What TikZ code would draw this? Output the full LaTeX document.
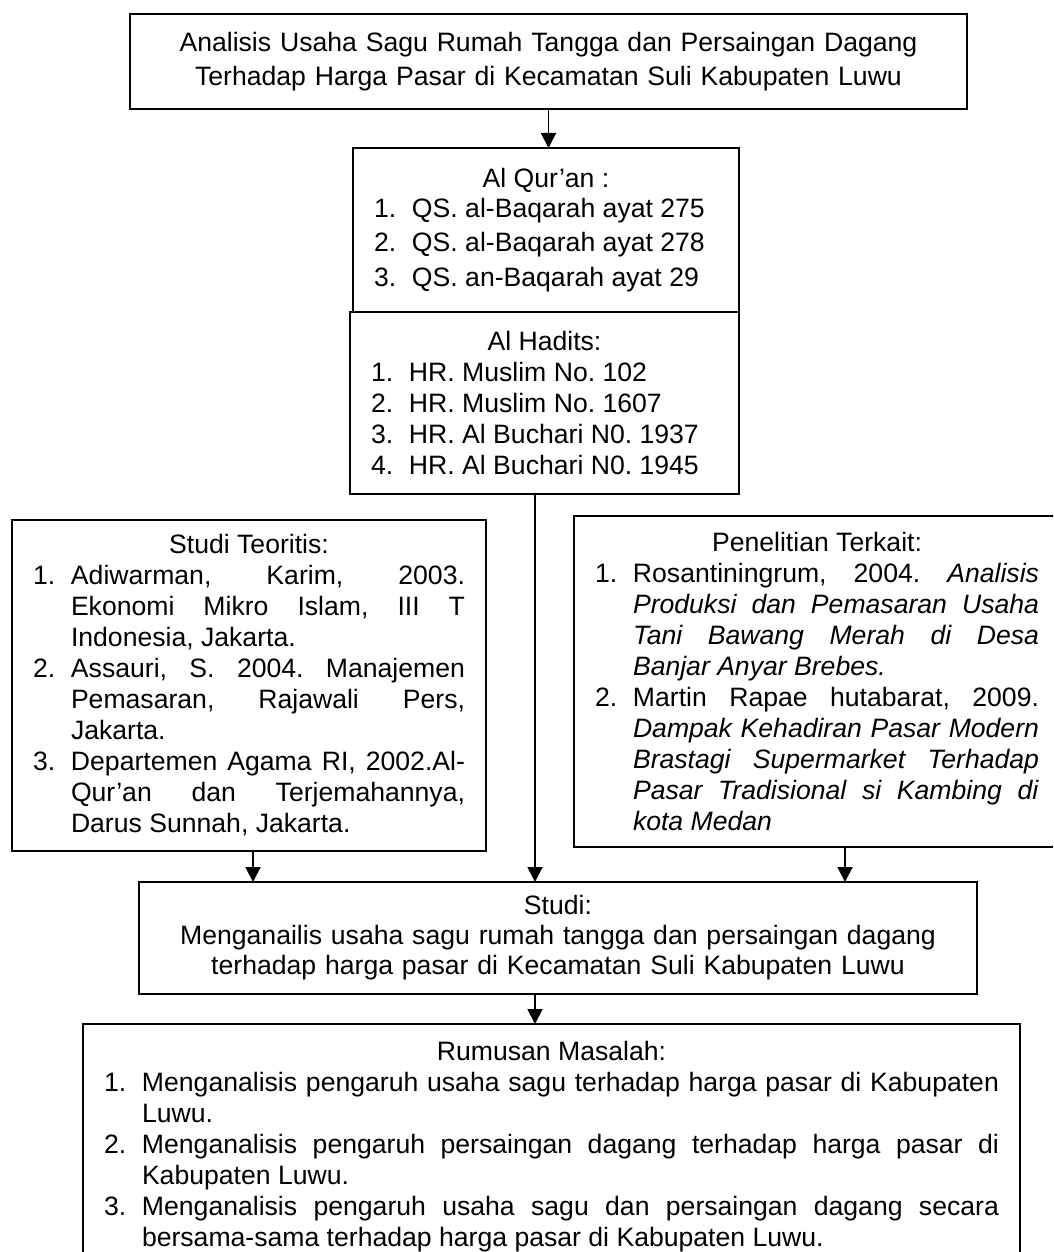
\documentclass[tikz,border=0pt]{standalone}
\usepackage{fontspec}
\setmainfont{Liberation Sans}
\usetikzlibrary{arrows.meta}
\tolerance=9000
\hbadness=10000
\hyphenpenalty=10000
\frenchspacing
\newcommand{\lstitem}[2]{\par\hangindent=38pt\hangafter=0\noindent\llap{\makebox[38pt][l]{#1}}#2\par}
\begin{document}
\begin{tikzpicture}[x=1pt,y=-1pt]
\tikzset{
  box/.style={draw, line width=1.8pt, outer sep=0pt, inner xsep=21pt, inner ysep=0pt,
    font=\fontsize{26.6}{31}\selectfont},
  lstbox/.style={box, align=justify},
  arr/.style={line width=1.9pt, -{Triangle[length=15pt,width=15pt]}}
}
\clip (0,0) rectangle (1053,1252);

\node[box, align=center, text width=795pt, minimum width=837pt, minimum height=95pt,
  font=\fontsize{26.6}{34}\selectfont] (top) at (548.5,61.5)
  {Analisis Usaha Sagu Rumah Tangga dan Persaingan Dagang\\Terhadap Harga Pasar di Kecamatan Suli Kabupaten Luwu};

\node[lstbox, text width=344pt, minimum width=386pt, minimum height=164pt] (quran) at (546,230)
  {{\centering Al Qur’an :\par}\vspace{-1pt}
   \lstitem{1.}{QS. al-Baqarah ayat 275}\vspace{3.5pt}
   \lstitem{2.}{QS. al-Baqarah ayat 278}\vspace{3.5pt}
   \lstitem{3.}{QS. an-Baqarah ayat 29}};

\node[lstbox, text width=347pt, minimum width=389pt, minimum height=182pt] (hadits) at (544.5,403)
  {{\centering Al Hadits:\par}
   \lstitem{1.}{HR. Muslim No. 102}
   \lstitem{2.}{HR. Muslim No. 1607}
   \lstitem{3.}{HR. Al Buchari N0. 1937}
   \lstitem{4.}{HR. Al Buchari N0. 1945}};

\node[lstbox, text width=432pt, minimum width=474pt, minimum height=331pt] (teori) at (249,685.5)
  {{\centering Studi Teoritis:\par}
   \lstitem{1.}{Adiwarman, Karim, 2003.\linebreak Ekonomi Mikro Islam, III T\linebreak Indonesia, Jakarta.}
   \lstitem{2.}{Assauri, S. 2004. Manajemen\linebreak Pemasaran, Rajawali Pers,\linebreak Jakarta.}
   \lstitem{3.}{Departemen Agama RI, 2002.Al-\linebreak Qur’an dan Terjemahannya,\linebreak Darus Sunnah, Jakarta.}};

\node[lstbox, text width=444pt, minimum width=486pt, minimum height=331pt] (pen) at (817,681.5)
  {{\centering Penelitian Terkait:\par}
   \lstitem{1.}{Rosantiningrum, 2004. \textit{Analisis}\linebreak \textit{Produksi dan Pemasaran Usaha}\linebreak \textit{Tani Bawang Merah di Desa}\linebreak \textit{Banjar Anyar Brebes.}}
   \lstitem{2.}{Martin Rapae hutabarat, 2009.\linebreak \textit{Dampak Kehadiran Pasar Modern}\linebreak \textit{Brastagi Supermarket Terhadap}\linebreak \textit{Pasar Tradisional si Kambing di}\linebreak \textit{kota Medan}}};

\node[box, align=center, text width=796pt, minimum width=838pt, minimum height=112pt,
  font=\fontsize{26.6}{30}\selectfont] (studi) at (558,938)
  {Studi:\\Menganailis usaha sagu rumah tangga dan persaingan dagang\\terhadap harga pasar di Kecamatan Suli Kabupaten Luwu};

\node[lstbox, text width=895pt, minimum width=937pt, minimum height=246pt] (rum) at (551.5,1147)
  {{\centering Rumusan Masalah:\par}
   \lstitem{1.}{Menganalisis pengaruh usaha sagu terhadap harga pasar di Kabupaten\linebreak Luwu.}
   \lstitem{2.}{Menganalisis pengaruh persaingan dagang terhadap harga pasar di\linebreak Kabupaten Luwu.}
   \lstitem{3.}{Menganalisis pengaruh usaha sagu dan persaingan dagang secara\linebreak bersama-sama terhadap harga pasar di Kabupaten Luwu.}};

\draw[arr] (top.south) -- (top.south |- quran.north);
\draw[arr] ([xshift=-9.5pt]hadits.south) -- ([xshift=-9.5pt]hadits.south |- studi.north);
\draw[arr] ([xshift=4pt]teori.south) -- ([xshift=4pt]teori.south |- studi.north);
\draw[arr] ([xshift=28pt]pen.south) -- ([xshift=28pt]pen.south |- studi.north);
\draw[arr] ([xshift=-23pt]studi.south) -- ([xshift=-23pt]studi.south |- rum.north);
\end{tikzpicture}
\end{document}
